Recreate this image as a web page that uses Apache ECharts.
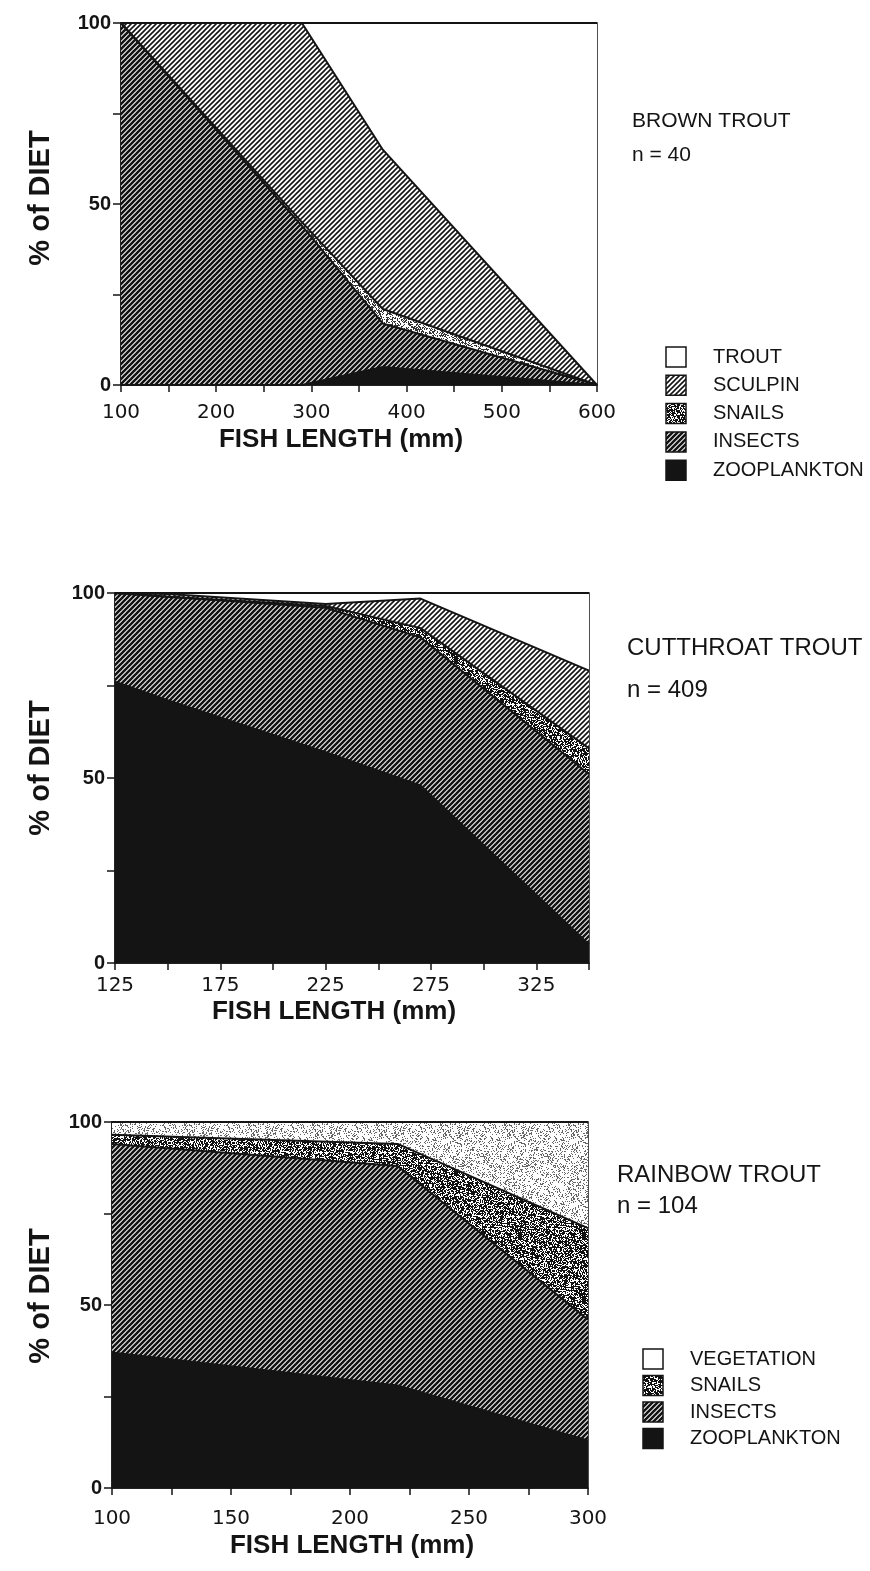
<!DOCTYPE html>
<html>
<head>
<meta charset="utf-8">
<script src="https://cdn.jsdelivr.net/npm/echarts@6/dist/echarts.min.js"></script>
<style>
  html, body { margin: 0; padding: 0; background: #fff; }
  #chart { width: 870px; height: 1571px; }
</style>
</head>
<body>
<div id="chart"></div>
<script>
// ---- Brown trout (n = 40): % of diet by fish length ----
const brownLength = [100, 290, 375, 600];
const brownZooplankton = [0, 0, 5, 0];
const brownInsects = [100, 44, 12, 0];
const brownSnails = [0, 1, 4, 0];
const brownSculpin = [0, 55, 44, 0];
const brownTrout = [0, 0, 35, 100];

// ---- Cutthroat trout (n = 409) ----
const cutLength = [125, 150, 225, 270, 350];
const cutZooplankton = [76, 71, 57, 48, 5];
const cutInsects = [24, 28, 39, 40, 46];
const cutSnails = [0, 0, 0.5, 2.5, 7];
const cutSculpin = [0, 0.7, 0.5, 8, 21];
const cutTrout = [0, 0.3, 3, 1.5, 21];

// ---- Rainbow trout (n = 104) ----
const rainLength = [100, 220, 300];
const rainZooplankton = [37, 28, 13];
const rainInsects = [57, 60, 33];
const rainSnails = [2.5, 6, 25];
const rainVegetation = [3.5, 6, 29];

// ---- Tick labels ----
const dietTickLabels = [0, 50, 100];
const brownTickLabels = [100, 200, 300, 400, 500, 600];
const cutTickLabels = [125, 175, 225, 275, 325];
const rainTickLabels = [100, 150, 200, 250, 300];

// ---- Legend entries (top to bottom) ----
const brownLegend = ['TROUT', 'SCULPIN', 'SNAILS', 'INSECTS', 'ZOOPLANKTON'];
const rainLegend = ['VEGETATION', 'SNAILS', 'INSECTS', 'ZOOPLANKTON'];

const INK = '#141414';

// Diagonal "/" hatch tile
function hatch(period, width) {
  const c = document.createElement('canvas');
  c.width = c.height = period;
  const g = c.getContext('2d');
  g.fillStyle = '#fff';
  g.fillRect(0, 0, period, period);
  g.strokeStyle = INK;
  g.lineWidth = width;
  g.beginPath();
  for (const o of [-period, 0, period]) {
    g.moveTo(o - 1, period + 1);
    g.lineTo(o + period + 1, -1);
  }
  g.stroke();
  return c;
}

// Deterministic stipple tile (integer hash per pixel)
function hash(x, y, s) {
  let n = Math.imul(x, 374761393) + Math.imul(y, 668265263) + Math.imul(s, 144665);
  n = Math.imul(n ^ (n >>> 13), 1274126177);
  n = n ^ (n >>> 16);
  return (n >>> 0) / 4294967296;
}
function stipple(size, density, ink, seed) {
  const c = document.createElement('canvas');
  c.width = c.height = size;
  const g = c.getContext('2d');
  g.fillStyle = '#fff';
  g.fillRect(0, 0, size, size);
  g.fillStyle = ink;
  for (let y = 0; y < size; y++) {
    for (let x = 0; x < size; x++) {
      if (hash(x, y, seed) < density) g.fillRect(x, y, 1, 1);
    }
  }
  return c;
}
const pat = (img) => ({ image: img, repeat: 'repeat' });

const fills = {
  white: '#ffffff',
  black: INK,
  insects: pat(hatch(5, 2.6)),
  sculpin: pat(hatch(5, 1.6)),
  snails: pat(stipple(64, 0.4, '#333', 7)),
  snailsDark: pat(stipple(64, 0.62, '#111', 11)),
  vegetation: pat(stipple(64, 0.22, '#666', 3))
};

// Layers are given bottom-to-top; each series draws its cumulative top and
// fills down to zero, painted top layer first so lower layers overlay it.
function stackedLayers(gridIndex, lengths, layers) {
  const cum = [];
  let run = lengths.map(() => 0);
  layers.forEach((ly) => {
    run = run.map((v, i) => v + ly.values[i]);
    cum.push(run.slice());
  });
  const out = [];
  for (let k = layers.length - 1; k >= 0; k--) {
    out.push({
      type: 'line',
      name: layers[k].name,
      xAxisIndex: gridIndex,
      yAxisIndex: gridIndex,
      data: lengths.map((x, i) => [x, cum[k][i]]),
      symbol: 'none',
      silent: true,
      lineStyle: { color: INK, width: 2 },
      areaStyle: { color: layers[k].fill, opacity: 1, origin: 'start' },
      z: 2
    });
  }
  return out;
}

const grids = [
  { left: 121, top: 23, width: 476, height: 362 },
  { left: 115, top: 593, width: 474, height: 370 },
  { left: 112, top: 1122, width: 476, height: 366 }
];

const xSpecs = [
  { min: 100, max: 600, interval: 50, labels: brownTickLabels, margin: 18 },
  { min: 125, max: 350, interval: 25, labels: cutTickLabels, margin: 13 },
  { min: 100, max: 300, interval: 25, labels: rainTickLabels, margin: 21 }
];

const xAxes = xSpecs.map((s, i) => ({
  type: 'value', gridIndex: i, min: s.min, max: s.max, interval: s.interval,
  axisLine: { show: true, lineStyle: { color: INK, width: 1.5 } },
  axisTick: { show: true, length: 7, lineStyle: { color: INK, width: 1.5 } },
  splitLine: { show: false },
  axisLabel: {
    margin: s.margin, color: INK, fontFamily: 'DejaVu Sans', fontSize: 20,
    formatter: (v) => (s.labels.includes(v) ? String(v) : '')
  }
}));

const yAxes = grids.map((g, i) => ({
  type: 'value', gridIndex: i, min: 0, max: 100, interval: 25,
  axisLine: { show: true, lineStyle: { color: INK, width: 1.5 } },
  axisTick: { show: true, length: 8, lineStyle: { color: INK, width: 1.5 } },
  splitLine: { show: false },
  axisLabel: {
    margin: 10, color: INK, fontFamily: 'Liberation Sans', fontSize: 20, fontWeight: 'bold',
    formatter: (v) => (dietTickLabels.includes(v) ? String(v) : '')
  }
}));

const series = [].concat(
  stackedLayers(0, brownLength, [
    { name: 'ZOOPLANKTON', values: brownZooplankton, fill: fills.black },
    { name: 'INSECTS', values: brownInsects, fill: fills.insects },
    { name: 'SNAILS', values: brownSnails, fill: fills.snails },
    { name: 'SCULPIN', values: brownSculpin, fill: fills.sculpin },
    { name: 'TROUT', values: brownTrout, fill: fills.white }
  ]),
  stackedLayers(1, cutLength, [
    { name: 'ZOOPLANKTON', values: cutZooplankton, fill: fills.black },
    { name: 'INSECTS', values: cutInsects, fill: fills.insects },
    { name: 'SNAILS', values: cutSnails, fill: fills.snailsDark },
    { name: 'SCULPIN', values: cutSculpin, fill: fills.sculpin },
    { name: 'TROUT', values: cutTrout, fill: fills.white }
  ]),
  stackedLayers(2, rainLength, [
    { name: 'ZOOPLANKTON', values: rainZooplankton, fill: fills.black },
    { name: 'INSECTS', values: rainInsects, fill: fills.insects },
    { name: 'SNAILS', values: rainSnails, fill: fills.snailsDark },
    { name: 'VEGETATION', values: rainVegetation, fill: fills.vegetation }
  ])
);

// ---- Text and legend graphics ----
const graphic = [];
function label(text, x, y, font, align, extra) {
  const a = align || 'left';
  graphic.push(Object.assign({
    type: 'text', x: x, y: y, silent: true,
    style: { text: text, font: font, fill: INK, align: a, verticalAlign: 'middle',
             textAlign: a, textVerticalAlign: 'middle' }
  }, extra || {}));
}
const axisNameFont = 'bold 26px "Liberation Sans"';
const yNameFont = 'bold 29px "Liberation Sans"';
const legendFont = '20px "Liberation Sans"';

[[341, 440], [334, 1012], [352, 1546]].forEach(([x, y]) => {
  label('FISH LENGTH (mm)', x, y, axisNameFont, 'center');
});
[198, 768, 1296].forEach((y) => {
  label('% of DIET', 41, y, yNameFont, 'center', { rotation: Math.PI / 2 });
});

label('BROWN TROUT', 632, 121, '21px "Liberation Sans"');
label('n = 40', 632, 155, '21px "Liberation Sans"');
label('CUTTHROAT TROUT', 627, 648, '24px "Liberation Sans"');
label('n = 409', 627, 690, '24px "Liberation Sans"');
label('RAINBOW TROUT', 617, 1175, '24px "Liberation Sans"');
label('n = 104', 617, 1206, '24px "Liberation Sans"');

const legendFill = {
  TROUT: fills.white, VEGETATION: fills.white, SCULPIN: fills.sculpin,
  SNAILS: fills.snailsDark, INSECTS: fills.insects, ZOOPLANKTON: fills.black
};
function legend(names, boxX, textX, y0, step) {
  names.forEach((n, i) => {
    const cy = y0 + i * step;
    graphic.push({
      type: 'rect', silent: true,
      shape: { x: boxX, y: cy - 10, width: 20, height: 20 },
      style: { fill: legendFill[n], stroke: INK, lineWidth: 1.5 }
    });
    label(n, textX, cy, legendFont);
  });
}
legend(brownLegend, 666, 713, 357, 28.3);
legend(rainLegend, 643, 690, 1359, 26.5);

const chart = echarts.init(document.getElementById('chart'), null, { renderer: 'canvas' });
chart.setOption({
  animation: false,
  backgroundColor: '#fff',
  grid: grids.map((g) => Object.assign({ show: true, borderColor: INK, borderWidth: 1.5, backgroundColor: 'transparent' }, g)),
  xAxis: xAxes,
  yAxis: yAxes,
  series: series,
  graphic: graphic
});
</script>
</body>
</html>
